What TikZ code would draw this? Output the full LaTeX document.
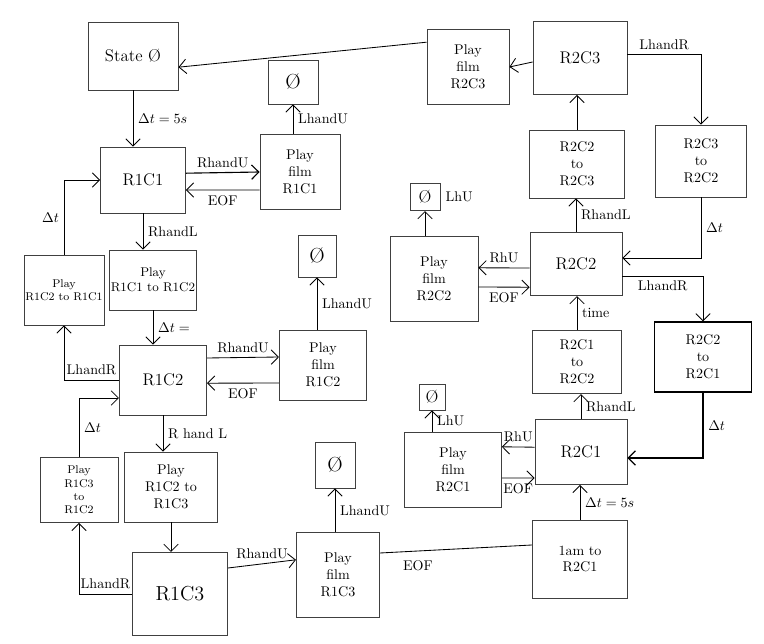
\documentclass[tikz,border=0pt]{standalone}
\usetikzlibrary{arrows.meta}
\begin{document}
\begin{tikzpicture}[x=0.025cm, y=-0.025cm, semithick, >={Straight Barb[length=1.8mm]},
    box/.style={draw=black!75, align=center, inner sep=1pt},
    state/.style={box, font=\large}]
    \useasboundingbox (0,0) rectangle (764,644);
    % row 1
    \node[state, minimum width=2.25cm, minimum height=1.7cm] (st0) at (133,56) {State \O};
    \node[box, minimum width=1.25cm, minimum height=1.1cm, font=\Large] (e1) at (293,82) {\O};
    \node[state, minimum width=2.12cm, minimum height=1.65cm] (r1c1) at (143,180) {R1C1};
    \node[box, minimum width=2cm, minimum height=1.88cm] (pf11) at (300,172) {Play\\film\\R1C1};
    \node[box, minimum width=1.88cm, minimum height=1.75cm, font=\footnotesize] (p21) at (64,290) {Play\\R1C2 to R1C1};
    \node[box, minimum width=2.18cm, minimum height=1.5cm, font=\small] (p12) at (153,280) {Play\\R1C1 to R1C2};
    \node[box, minimum width=0.95cm, minimum height=1.05cm, font=\Large] (e2) at (317,256) {\O};
    \node[state, minimum width=2.18cm, minimum height=1.75cm] (r1c2) at (163,380) {R1C2};
    \node[box, minimum width=2.18cm, minimum height=1.75cm] (pf12) at (323,365) {Play\\film\\R1C2};
    \node[box, minimum width=1.95cm, minimum height=1.62cm, font=\footnotesize] (p32) at (79,490) {Play\\R1C3\\to\\R1C2};
    \node[box, minimum width=2.32cm, minimum height=1.75cm] (p23) at (171,487) {Play\\R1C2 to\\R1C3};
    \node[box, minimum width=1cm, minimum height=1.15cm, font=\Large] (e3) at (335,465) {\O};
    \node[state, minimum width=2.38cm, minimum height=2.08cm, font=\Large] (r1c3) at (180,594) {R1C3};
    \node[box, minimum width=2.08cm, minimum height=2.12cm] (pf13) at (338,575) {Play\\film\\R1C3};
    % row 2
    \node[box, minimum width=2.05cm, minimum height=1.88cm] (pf23) at (468,67) {Play\\film\\R2C3};
    \node[state, minimum width=2.35cm, minimum height=1.82cm] (r2c3) at (580,58) {R2C3};
    \node[box, minimum width=2.38cm, minimum height=1.7cm] (p223) at (577,164) {R2C2\\to\\R2C3};
    \node[box, minimum width=2.28cm, minimum height=1.8cm] (p232) at (701,161) {R2C3\\to\\R2C2};
    \node[box, minimum width=0.75cm, minimum height=0.68cm, font=\large, label=right:LhU] (e4) at (425,197) {\O};
    \node[box, minimum width=2.2cm, minimum height=2.12cm] (pf22) at (434,279) {Play\\film\\R2C2};
    \node[state, minimum width=2.3cm, minimum height=1.58cm] (r2c2) at (576,264) {R2C2};
    \node[box, minimum width=2.22cm, minimum height=1.58cm] (p122) at (577,362) {R2C1\\to\\R2C2};
    \node[box, thick, draw=black, minimum width=2.42cm, minimum height=1.75cm] (p221) at (703,357) {R2C2\\to\\R2C1};
    \node[box, minimum width=0.65cm, minimum height=0.65cm, font=\large] (e5) at (432,397) {\O};
    \node[box, minimum width=2.42cm, minimum height=1.88cm] (pf21) at (453,470) {Play\\film\\R2C1};
    \node[state, minimum width=2.3cm, minimum height=1.62cm] (r2c1) at (581,452) {R2C1};
    \node[box, minimum width=2.38cm, minimum height=1.95cm] (i21) at (580,559) {1am to\\R2C1};
    % connectors, row 1
    \draw[->] (st0.south) -- (st0.south |- r1c1.north) node[midway, right] {$\Delta t=5s$};
    \draw[->, thick] ([yshift=0.17cm]r1c1.east) -- (pf11.west) node[midway, above] {RhandU};
    \draw[->] ([yshift=-0.45cm]pf11.west) -- ([yshift=-0.25cm]r1c1.east) node[midway, below] {EOF};
    \draw[->] (e1.south |- pf11.north) -- (e1.south) node[midway, right] {LhandU};
    \draw[->] (r1c1.south) -- (r1c1.south |- p12.north) node[midway, right] {RhandL};
    \draw[->] (p21.north) |- (r1c1.west) node[pos=0.25, left] {$\Delta t$};
    \draw[->] (p12.south) -- (p12.south |- r1c2.north) node[midway, right] {$\Delta t=$};
    \draw[->] (r1c2.west) -| (p21.south) node[pos=0.25, above] {LhandR};
    \draw[->] ([yshift=0.55cm]r1c2.east) -- ([yshift=0.2cm]pf12.west) node[midway, above] {RhandU};
    \draw[->] ([yshift=-0.45cm]pf12.west) -- ([yshift=-0.08cm]r1c2.east) node[midway, below] {EOF};
    \draw[->] (e2.south |- pf12.north) -- (e2.south) node[midway, right] {LhandU};
    \draw[->] (r1c2.south) -- (r1c2.south |- p23.north) node[midway, right] {R hand L};
    \draw[->] (p32.north) |- ([yshift=-0.45cm]r1c2.west) node[pos=0.25, right] {$\Delta t$};
    \draw[->] (p23.south) -- (p23.south |- r1c3.north);
    \draw[->] (r1c3.west) -| (p32.south) node[pos=0.25, above] {LhandR};
    \draw[->] ([yshift=0.65cm]r1c3.east) -- ([yshift=0.38cm]pf13.west) node[midway, above] {RhandU};
    \draw[->] (e3.south |- pf13.north) -- (e3.south) node[midway, right] {LhandU};
    \draw ([yshift=0.55cm]pf13.east) -- ([yshift=0.35cm]i21.west) node[pos=0.25, below=3pt] {EOF};
    % connectors, row 2
    \draw[->] (i21.north) -- (i21.north |- r2c1.south) node[midway, right] {$\Delta t=5s$};
    \draw[->] ([yshift=0.12cm]r2c1.west) -- ([yshift=0.58cm]pf21.east) node[midway, above] {RhU};
    \draw[->] ([yshift=-0.2cm]pf21.east) -- ([yshift=-0.65cm]r2c1.west) node[midway, below] {EOF};
    \draw[->] (e5.south |- pf21.north) -- (e5.south) node[midway, right] {LhU};
    \draw[->] (r2c1.north) -- (r2c1.north |- p122.south) node[midway, right] {RhandL};
    \draw[->] (p122.north) -- (p122.north |- r2c2.south) node[midway, right] {time};
    \draw[->] ([yshift=-0.1cm]r2c2.west) -- ([yshift=0.28cm]pf22.east) node[midway, above] {RhU};
    \draw[->] ([yshift=-0.2cm]pf22.east) -- ([yshift=-0.58cm]r2c2.west) node[midway, below] {EOF};
    \draw[->] (e4.south |- pf22.north) -- (e4.south);
    \draw[->] (r2c2.north) -- (r2c2.north |- p223.south) node[midway, right] {RhandL};
    \draw[->] (p223.north) -- (p223.north |- r2c3.south);
    \draw[->] ([yshift=-0.1cm]r2c3.west) -- (pf23.east);
    \draw[->] ([yshift=0.62cm]pf23.west) -- ([yshift=-0.28cm]st0.east);
    \draw[->] ([yshift=0.08cm]r2c3.east) -| (p232.north) node[pos=0.25, above] {LhandR};
    \draw[->] (p232.south) |- ([yshift=0.15cm]r2c2.east) node[pos=0.25, right] {$\Delta t$};
    \draw[->] ([yshift=-0.3cm]r2c2.east) -| (p221.north) node[pos=0.25, below] {LhandR};
    \draw[->, thick] (p221.south) |- ([yshift=-0.15cm]r2c1.east) node[pos=0.25, right] {$\Delta t$};
\end{tikzpicture}
\end{document}
